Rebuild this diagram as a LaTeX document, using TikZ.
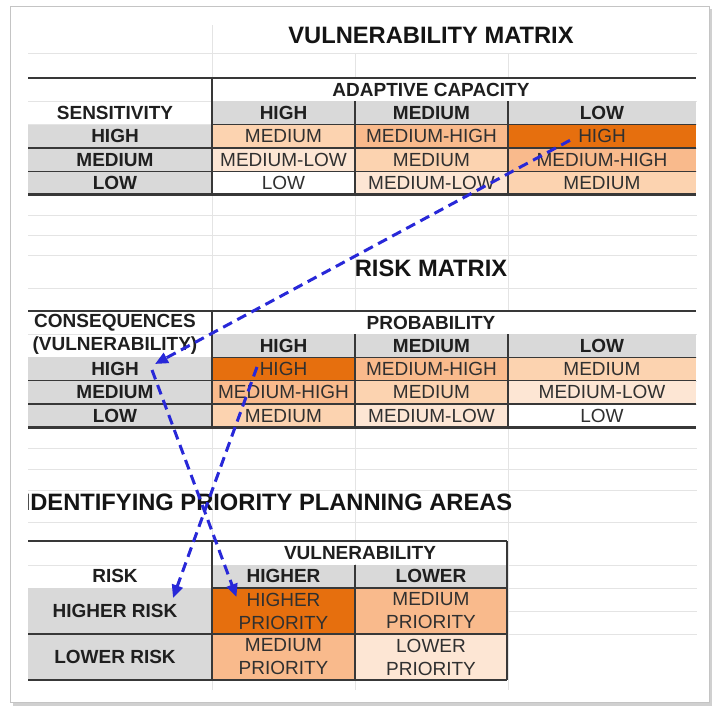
\documentclass[tikz,border=0pt]{standalone}
\usepackage{fontspec}
\setmainfont{Liberation Sans}
\usetikzlibrary{arrows.meta,calc}
\definecolor{hiorange}{HTML}{E66F0E}
\definecolor{mhorange}{HTML}{F9BA8C}
\definecolor{medorange}{HTML}{FCD3B0}
\definecolor{mlorange}{HTML}{FDE6D4}
\definecolor{hdrgray}{HTML}{D9D9D9}
\definecolor{gridgray}{HTML}{E4E4E4}
\definecolor{rulegray}{HTML}{383838}
\definecolor{celltext}{HTML}{303030}
\definecolor{linkblue}{HTML}{2828D8}
\definecolor{framegray}{HTML}{C4C4C4}

\begin{document}
\begin{tikzpicture}[x=1pt,y=-1pt,
  valcell/.style={inner sep=0pt,minimum height=23.4pt,text=celltext,font=\fontsize{19}{23}\selectfont},
  headlabel/.style={inner sep=0pt,text=black!88,font=\bfseries\fontsize{19}{23}\selectfont},
  titlelabel/.style={inner sep=0pt,text=black!92,font=\bfseries\fontsize{23.7}{28}\selectfont},
  thickrule/.style={rulegray,line width=2.4pt},
  thinrule/.style={rulegray,line width=1.3pt},
  gridrule/.style={gridgray,line width=0.8pt},
  linkarrow/.style={linkblue,line width=3pt,dash pattern=on 10pt off 6pt,-{Triangle[length=13pt,width=11pt]}}]
  \useasboundingbox (0,0) rectangle (713,707);
  \fill[framegray!80] (13,9) rectangle (712,706);
  \draw[framegray,fill=white] (10,6) rectangle (709,702);
  % sheet grid
  \foreach \y in {53,101,124,148,171,215,235,255,288,334,357,381,404,448,469,490,522,565,588,611,634}
    \draw[gridrule] (28,\y) -- (697,\y);
  \draw[gridrule] (212,25) -- (212,690);
  \foreach \x in {355,508}
    \draw[gridrule] (\x,53) -- (\x,690);

  % vulnerability matrix
  \fill[white] (213,79) rectangle (696,100.5);
  \fill[hdrgray] (212,101.3) rectangle (696,124.6);
  \fill[hdrgray] (28,124.6) rectangle (212,194.6);
  \node[titlelabel] (vtitle) at (431,35) {VULNERABILITY MATRIX};
  \node[headlabel] (vhead) at (431,90) {ADAPTIVE CAPACITY};
  \node[headlabel] (vside) at (115,113) {SENSITIVITY};
  \foreach \c/\x/\t in {a/283.5/HIGH,b/431.5/MEDIUM,c/602/LOW}
    \node[headlabel] (vcol-\c) at (\x,113) {\t};
  \foreach \i/\y/\t/\va/\vb/\vc/\fa/\fb/\fc in {
      1/136.3/HIGH/MEDIUM/MEDIUM-HIGH/HIGH/medorange/mhorange/hiorange,
      2/159.6/MEDIUM/MEDIUM-LOW/MEDIUM/MEDIUM-HIGH/mlorange/medorange/mhorange,
      3/183/LOW/LOW/MEDIUM-LOW/MEDIUM/white/mlorange/medorange}
  {
    \node[headlabel] (v\i-l) at (115,\y) {\t};
    \node[valcell,fill=\fa,minimum width=143pt] (v\i-a) at (283.5,\y) {\va};
    \node[valcell,fill=\fb,minimum width=153pt] (v\i-b) at (431.5,\y) {\vb};
    \node[valcell,fill=\fc,minimum width=188pt] (v\i-c) at (602,\y) {\vc};
  }
  \draw[thickrule] (28,78) -- (696,78) (28,194.6) -- (696,194.6) (212,78) -- (212,194.6);
  \draw[thinrule] (212,124.6) -- (696,124.6) (28,148) -- (696,148) (28,171.3) -- (696,171.3)
    (355,101.3) -- (355,194.6) (508,101.3) -- (508,194.6);

  % risk matrix
  \fill[white] (213,312) rectangle (696,333.5);
  \fill[hdrgray] (212,334) rectangle (696,357.3);
  \fill[hdrgray] (28,357.3) rectangle (212,427.6);
  \node[titlelabel] (rtitle) at (431,268) {RISK MATRIX};
  \node[headlabel] (rside) at (115,322.5) {CONSEQUENCES};
  \node[headlabel] (rsub) at (115,345.7) {(VULNERABILITY)};
  \node[headlabel] (rhead) at (431,322.5) {PROBABILITY};
  \foreach \c/\x/\t in {a/283.5/HIGH,b/431.5/MEDIUM,c/602/LOW}
    \node[headlabel] (rcol-\c) at (\x,345.7) {\t};
  \foreach \i/\y/\t/\va/\vb/\vc/\fa/\fb/\fc in {
      1/369/HIGH/HIGH/MEDIUM-HIGH/MEDIUM/hiorange/mhorange/medorange,
      2/392.3/MEDIUM/MEDIUM-HIGH/MEDIUM/MEDIUM-LOW/mhorange/medorange/mlorange,
      3/415.6/LOW/MEDIUM/MEDIUM-LOW/LOW/medorange/mlorange/white}
  {
    \node[headlabel] (r\i-l) at (115,\y) {\t};
    \node[valcell,fill=\fa,minimum width=143pt] (r\i-a) at (283.5,\y) {\va};
    \node[valcell,fill=\fb,minimum width=153pt] (r\i-b) at (431.5,\y) {\vb};
    \node[valcell,fill=\fc,minimum width=188pt] (r\i-c) at (602,\y) {\vc};
  }
  \draw[thickrule] (28,311) -- (696,311) (28,427.6) -- (696,427.6) (212,311) -- (212,427.6);
  \draw[thinrule] (212,357.3) -- (696,357.3) (28,380.6) -- (696,380.6) (28,404) -- (696,404)
    (355,334) -- (355,427.6) (508,334) -- (508,427.6);

  % priority planning areas
  \begin{scope}
    \clip (28,480) rectangle (697,525);
    \node[titlelabel,anchor=west] (ptitle) at (23.6,502) {IDENTIFYING PRIORITY PLANNING AREAS};
  \end{scope}
  \fill[white] (213,542) rectangle (506,564);
  \fill[hdrgray] (212,564.6) rectangle (507,588);
  \fill[hdrgray] (28,588) rectangle (212,680);
  \node[headlabel] (phead) at (360,553) {VULNERABILITY};
  \node[headlabel] (pside) at (115,576.3) {RISK};
  \node[headlabel] (pcol-a) at (283.5,576.3) {HIGHER};
  \node[headlabel] (pcol-b) at (431,576.3) {LOWER};
  \foreach \i/\y/\t/\va/\vb/\fa/\fb in {
      1/611/HIGHER RISK/HIGHER/MEDIUM/hiorange/mhorange,
      2/657/LOWER RISK/MEDIUM/LOWER/mhorange/mlorange}
  {
    \node[headlabel] (p\i-l) at (115,\y) {\t};
    \node[valcell,fill=\fa,minimum width=143pt,minimum height=46pt,align=center] (p\i-a) at (283.5,\y) {\va\\PRIORITY};
    \node[valcell,fill=\fb,minimum width=152pt,minimum height=46pt,align=center] (p\i-b) at (431,\y) {\vb\\PRIORITY};
  }
  \draw[thickrule] (28,541) -- (507,541) (28,680) -- (507,680) (212,541) -- (212,680) (507,541) -- (507,680);
  \draw[thinrule] (212,588) -- (507,588) (28,634) -- (507,634) (355,564.6) -- (355,680);

  % links
  \draw[linkarrow] ($(v1-c.center)+(-32,4)$) -- ($(r1-l.center)+(40,-5)$);
  \draw[linkarrow] ($(r1-l.center)+(37,1)$) -- ($(p1-a.center)+(-47,-14)$);
  \draw[linkarrow] ($(r1-a.center)+(-26.5,-2)$) -- ($(p1-l.center)+(58,-13)$);
\end{tikzpicture}
\end{document}
